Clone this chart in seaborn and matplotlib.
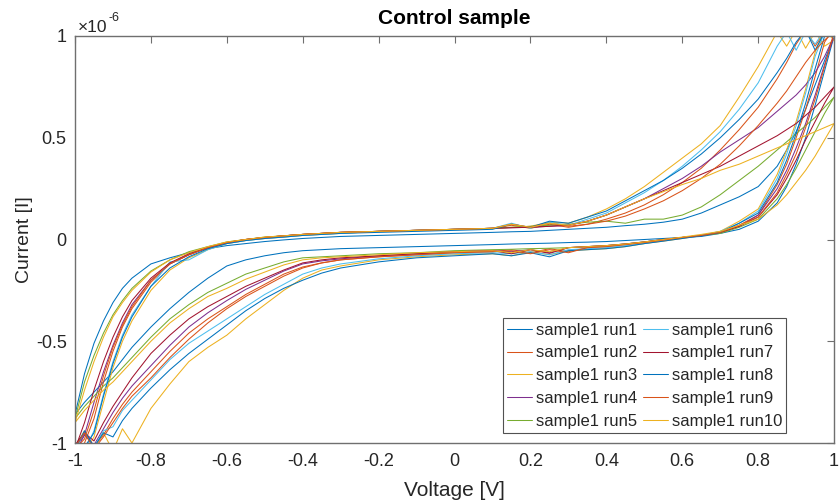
import matplotlib
matplotlib.use("Agg")
import matplotlib.pyplot as plt
import pandas as pd
import seaborn as sns
from matplotlib.ticker import FixedLocator, FuncFormatter

# Sweep voltage grid [V]
voltage = [-1.0, -0.975, -0.95, -0.925, -0.9, -0.875, -0.85,
           -0.8, -0.75, -0.7, -0.65, -0.6, -0.55, -0.5, -0.45, -0.4, -0.35, -0.3,
           -0.2, -0.1, 0.0, 0.1,
           0.15, 0.2, 0.25, 0.3, 0.35, 0.4, 0.45, 0.5, 0.55, 0.6, 0.65, 0.7, 0.75, 0.8,
           0.85, 0.875, 0.9, 0.925, 0.95, 0.975, 1.0]

run_labels = ["sample1 run%d" % i for i in range(1, 11)]

# Currents in units of 1e-6 A.
# fwd_*: lower branch, swept from -1 V up to +1 V
# rev_*: upper branch, listed on the same ascending grid (swept from +1 V back to -1 V)
fwd_run1 = [-0.86, -0.80, -0.75, -0.70, -0.65, -0.59, -0.53,
            -0.43, -0.34, -0.26, -0.19, -0.13, -0.10, -0.08, -0.065, -0.055, -0.05, -0.045,
            -0.04, -0.035, -0.03, -0.025,
            -0.022, -0.02, -0.018, -0.015, -0.013, -0.01, -0.005, 0.0, 0.005, 0.01, 0.015, 0.03, 0.05, 0.09,
            0.18, 0.26, 0.37, 0.50, 0.66, 0.83, 1.0]
rev_run1 = [-0.86, -0.66, -0.51, -0.40, -0.31, -0.24, -0.19,
            -0.12, -0.09, -0.065, -0.045, -0.03, -0.02, -0.01, -0.002, 0.005, 0.01, 0.015,
            0.02, 0.025, 0.03, 0.035,
            0.038, 0.04, 0.045, 0.05, 0.055, 0.06, 0.068, 0.075, 0.085, 0.10, 0.13, 0.17, 0.21, 0.26,
            0.36, 0.44, 0.53, 0.64, 0.76, 0.88, 1.0]

fwd_run2 = [-1.03, -0.95, -1.02, -0.96, -0.88, -0.81, -0.75,
            -0.65, -0.55, -0.46, -0.39, -0.33, -0.27, -0.22, -0.17, -0.135, -0.115, -0.10,
            -0.085, -0.075, -0.065, -0.06,
            -0.05, -0.065, -0.045, -0.06, -0.04, -0.035, -0.025, -0.015, -0.005, 0.01, 0.02, 0.035, 0.07, 0.12,
            0.27, 0.37, 0.50, 0.64, 0.80, 0.97, 1.04]
rev_run2 = [-1.04, -1.0, -0.88, -0.70, -0.55, -0.43, -0.34,
            -0.21, -0.12, -0.075, -0.04, -0.015, 0.0, 0.01, 0.018, 0.025, 0.03, 0.035,
            0.04, 0.045, 0.05, 0.055,
            0.07, 0.055, 0.075, 0.06, 0.075, 0.10, 0.13, 0.17, 0.22, 0.28, 0.35, 0.44, 0.54, 0.65,
            0.79, 0.87, 0.96, 1.03, 0.95, 1.02, 1.04]

fwd_run3 = [-1.02, -0.94, -1.03, -0.95, -1.04, -0.93, -1.0,
            -0.83, -0.71, -0.60, -0.53, -0.47, -0.39, -0.32, -0.25, -0.19, -0.15, -0.13,
            -0.10, -0.085, -0.075, -0.07,
            -0.08, -0.06, -0.075, -0.055, -0.05, -0.045, -0.035, -0.02, -0.008, 0.005, 0.02, 0.04, 0.09, 0.15,
            0.32, 0.44, 0.58, 0.74, 0.92, 1.03, 0.98]
rev_run3 = [-1.03, -1.05, -0.97, -0.80, -0.63, -0.50, -0.40,
            -0.25, -0.15, -0.09, -0.05, -0.02, -0.005, 0.005, 0.012, 0.02, 0.025, 0.03,
            0.04, 0.045, 0.05, 0.055,
            0.06, 0.065, 0.085, 0.08, 0.11, 0.15, 0.20, 0.26, 0.33, 0.40, 0.47, 0.56, 0.70, 0.85,
            1.02, 0.95, 1.03, 0.94, 1.02, 0.95, 0.98]

fwd_run4 = [-1.02, -0.96, -1.01, -0.93, -0.85, -0.78, -0.72,
            -0.62, -0.52, -0.43, -0.36, -0.30, -0.245, -0.20, -0.155, -0.12, -0.105, -0.095,
            -0.08, -0.07, -0.06, -0.055,
            -0.06, -0.05, -0.065, -0.04, -0.035, -0.03, -0.022, -0.012, 0.0, 0.01, 0.02, 0.035, 0.065, 0.12,
            0.25, 0.34, 0.45, 0.57, 0.71, 0.86, 1.0]
rev_run4 = [-1.05, -0.96, -0.80, -0.65, -0.52, -0.41, -0.32,
            -0.20, -0.12, -0.075, -0.04, -0.015, 0.0, 0.01, 0.018, 0.025, 0.03, 0.035,
            0.04, 0.045, 0.05, 0.055,
            0.058, 0.06, 0.065, 0.07, 0.09, 0.12, 0.16, 0.20, 0.25, 0.30, 0.36, 0.43, 0.49, 0.55,
            0.63, 0.67, 0.71, 0.76, 0.82, 0.90, 1.0]

fwd_run5 = [-0.88, -0.82, -0.77, -0.72, -0.68, -0.63, -0.58,
            -0.48, -0.39, -0.32, -0.26, -0.215, -0.17, -0.14, -0.11, -0.09, -0.085, -0.08,
            -0.07, -0.065, -0.055, -0.05,
            -0.048, -0.045, -0.043, -0.04, -0.035, -0.03, -0.022, -0.012, 0.0, 0.01, 0.02, 0.03, 0.06, 0.10,
            0.20, 0.27, 0.35, 0.44, 0.53, 0.62, 0.70]
rev_run5 = [-0.88, -0.70, -0.57, -0.46, -0.37, -0.30, -0.24,
            -0.155, -0.10, -0.06, -0.035, -0.012, 0.0, 0.012, 0.018, 0.025, 0.03, 0.035,
            0.04, 0.045, 0.05, 0.055,
            0.06, 0.065, 0.07, 0.075, 0.085, 0.09, 0.08, 0.10, 0.10, 0.12, 0.16, 0.22, 0.29, 0.36,
            0.44, 0.48, 0.52, 0.56, 0.60, 0.65, 0.70]

fwd_run6 = [-1.03, -0.95, -1.02, -0.94, -0.92, -0.84, -0.79,
            -0.69, -0.59, -0.51, -0.45, -0.39, -0.33, -0.27, -0.22, -0.17, -0.14, -0.12,
            -0.095, -0.08, -0.07, -0.065,
            -0.07, -0.06, -0.075, -0.05, -0.045, -0.04, -0.03, -0.02, -0.005, 0.008, 0.02, 0.04, 0.08, 0.14,
            0.30, 0.42, 0.56, 0.72, 0.90, 1.02, 0.99]
rev_run6 = [-1.02, -1.04, -0.94, -0.76, -0.60, -0.47, -0.37,
            -0.23, -0.11, -0.10, -0.05, -0.02, -0.005, 0.005, 0.012, 0.02, 0.025, 0.03,
            0.04, 0.045, 0.05, 0.055,
            0.08, 0.055, 0.085, 0.07, 0.10, 0.13, 0.18, 0.23, 0.29, 0.36, 0.44, 0.53, 0.64, 0.77,
            0.95, 1.02, 0.93, 1.02, 0.96, 1.03, 0.99]

fwd_run7 = [-1.01, -0.95, -0.99, -0.90, -0.82, -0.75, -0.68,
            -0.56, -0.47, -0.39, -0.33, -0.28, -0.23, -0.19, -0.15, -0.115, -0.10, -0.09,
            -0.08, -0.07, -0.06, -0.055,
            -0.07, -0.05, -0.068, -0.04, -0.035, -0.03, -0.022, -0.012, 0.0, 0.01, 0.02, 0.035, 0.065, 0.11,
            0.22, 0.30, 0.39, 0.49, 0.58, 0.67, 0.75]
rev_run7 = [-1.03, -0.90, -0.74, -0.60, -0.48, -0.38, -0.30,
            -0.19, -0.115, -0.07, -0.04, -0.015, 0.0, 0.01, 0.018, 0.025, 0.03, 0.035,
            0.04, 0.045, 0.05, 0.055,
            0.058, 0.06, 0.065, 0.07, 0.09, 0.12, 0.16, 0.20, 0.24, 0.28, 0.32, 0.36, 0.41, 0.46,
            0.51, 0.54, 0.57, 0.61, 0.65, 0.70, 0.75]

fwd_run8 = [-1.03, -0.94, -1.02, -0.95, -0.97, -0.89, -0.83,
            -0.73, -0.64, -0.56, -0.49, -0.42, -0.35, -0.29, -0.24, -0.20, -0.165, -0.14,
            -0.11, -0.09, -0.08, -0.07,
            -0.08, -0.065, -0.085, -0.055, -0.05, -0.045, -0.035, -0.02, -0.008, 0.005, 0.018, 0.035, 0.08, 0.13,
            0.28, 0.39, 0.52, 0.67, 0.84, 1.0, 1.03]
rev_run8 = [-1.04, -1.02, -0.95, -0.77, -0.61, -0.48, -0.38,
            -0.23, -0.14, -0.085, -0.045, -0.02, -0.005, 0.005, 0.012, 0.02, 0.025, 0.03,
            0.035, 0.04, 0.045, 0.05,
            0.075, 0.06, 0.09, 0.08, 0.11, 0.14, 0.19, 0.24, 0.29, 0.35, 0.42, 0.50, 0.59, 0.69,
            0.82, 0.89, 0.97, 1.03, 0.93, 1.02, 1.03]

fwd_run9 = [-1.02, -0.95, -1.03, -0.97, -0.90, -0.83, -0.77,
            -0.68, -0.58, -0.49, -0.41, -0.34, -0.28, -0.23, -0.18, -0.14, -0.115, -0.10,
            -0.085, -0.075, -0.065, -0.06,
            -0.055, -0.07, -0.05, -0.065, -0.04, -0.035, -0.025, -0.015, -0.003, 0.01, 0.02, 0.035, 0.07, 0.11,
            0.23, 0.32, 0.42, 0.55, 0.69, 0.85, 1.02]
rev_run9 = [-1.03, -0.98, -0.84, -0.67, -0.53, -0.42, -0.33,
            -0.20, -0.12, -0.075, -0.04, -0.015, 0.0, 0.01, 0.018, 0.025, 0.03, 0.035,
            0.04, 0.045, 0.05, 0.055,
            0.075, 0.06, 0.08, 0.065, 0.075, 0.09, 0.115, 0.15, 0.19, 0.24, 0.30, 0.37, 0.46, 0.56,
            0.67, 0.73, 0.80, 0.87, 0.93, 0.98, 1.02]

fwd_run10 = [-0.90, -0.84, -0.79, -0.74, -0.70, -0.65, -0.60,
             -0.50, -0.41, -0.34, -0.28, -0.24, -0.195, -0.16, -0.125, -0.10, -0.09, -0.085,
             -0.075, -0.065, -0.06, -0.055,
             -0.065, -0.05, -0.06, -0.04, -0.035, -0.03, -0.022, -0.012, 0.0, 0.012, 0.025, 0.04, 0.07, 0.10,
             0.17, 0.22, 0.28, 0.34, 0.41, 0.49, 0.57]
rev_run10 = [-0.90, -0.74, -0.60, -0.48, -0.38, -0.31, -0.25,
             -0.16, -0.10, -0.065, -0.035, -0.012, 0.0, 0.012, 0.018, 0.025, 0.03, 0.035,
             0.04, 0.045, 0.05, 0.055,
             0.075, 0.06, 0.08, 0.07, 0.09, 0.12, 0.16, 0.20, 0.235, 0.27, 0.30, 0.34, 0.37, 0.41,
             0.45, 0.47, 0.49, 0.51, 0.53, 0.55, 0.57]

forward_branches = [fwd_run1, fwd_run2, fwd_run3, fwd_run4, fwd_run5,
                    fwd_run6, fwd_run7, fwd_run8, fwd_run9, fwd_run10]
reverse_branches = [rev_run1, rev_run2, rev_run3, rev_run4, rev_run5,
                    rev_run6, rev_run7, rev_run8, rev_run9, rev_run10]

line_colors = ["#0072BD", "#D95319", "#EDB120", "#7E2F8E", "#77AC30",
               "#4DBEEE", "#A2142F", "#0072BD", "#D95319", "#EDB120"]

CURRENT_SCALE = 1e-6

# Each run is a closed loop: forward branch up, reverse branch back down
rows = []
for label, fwd, rev in zip(run_labels, forward_branches, reverse_branches):
    assert len(fwd) == len(voltage) and len(rev) == len(voltage), label
    path_v = list(voltage) + list(voltage[::-1][1:]) + [voltage[0]]
    path_i = list(fwd) + list(rev[::-1][1:]) + [fwd[0]]
    for step, (v, i) in enumerate(zip(path_v, path_i)):
        rows.append({"run": label, "step": step, "V": v, "I": i * CURRENT_SCALE})
df = pd.DataFrame(rows)

sns.set_theme(style="white")
plt.rcParams["font.family"] = ["Liberation Sans", "DejaVu Sans"]
plt.rcParams["axes.unicode_minus"] = False

fig = plt.figure(figsize=(8.4, 5.04), dpi=100)
ax = fig.add_axes([0.0893, 0.121, 0.9037, 0.8076])

sns.lineplot(data=df, x="V", y="I", hue="run", hue_order=run_labels,
             palette=dict(zip(run_labels, line_colors)), sort=False,
             estimator=None, linewidth=0.75, ax=ax, legend=False)

ax.set_xlim(-1, 1)
ax.set_ylim(-1 * CURRENT_SCALE, 1 * CURRENT_SCALE)
ax.xaxis.set_major_locator(FixedLocator([-1, -0.8, -0.6, -0.4, -0.2, 0, 0.2, 0.4, 0.6, 0.8, 1]))
ax.yaxis.set_major_locator(FixedLocator([v * CURRENT_SCALE for v in (-1, -0.5, 0, 0.5, 1)]))
ax.xaxis.set_major_formatter(FuncFormatter(lambda v, p: "%g" % round(v, 2)))
ax.yaxis.set_major_formatter(FuncFormatter(lambda v, p: "%g" % round(v / CURRENT_SCALE, 2)))

edge = "#262626"
for side in ax.spines.values():
    side.set_color("#6f6f6f")
    side.set_linewidth(1.0)
ax.tick_params(axis="both", direction="in", length=5, width=0.8, color="#6f6f6f",
               top=True, right=True, labelcolor=edge, labelsize=13)
ax.tick_params(axis="x", pad=7)
ax.tick_params(axis="y", pad=6)

# Exponent of the current axis, drawn as "x10" with a raised "-6"
ax.annotate("\u00d710", xy=(0, 1), xycoords="axes fraction", xytext=(2, 3),
            textcoords="offset points", ha="left", va="baseline", fontsize=12.5, color=edge)
ax.annotate("-6", xy=(0, 1), xycoords="axes fraction", xytext=(24, 11),
            textcoords="offset points", ha="left", va="baseline", fontsize=9, color=edge)

ax.set_title("Control sample", fontsize=15, fontweight="bold", color="black", pad=8.5)
ax.set_xlabel("Voltage [V]", fontsize=15, color=edge, labelpad=8)
ax.set_ylabel("Current [I]", fontsize=14, color=edge, labelpad=2)

handles = ax.get_lines()[:len(run_labels)]
leg = ax.legend(handles, run_labels, ncol=2, loc="lower right",
                bbox_to_anchor=(0.937, 0.0246), fontsize=12, frameon=True,
                fancybox=False, handlelength=1.5, handletextpad=0.2,
                columnspacing=0.4, labelspacing=0.47, borderpad=0.25,
                borderaxespad=0.0)
leg.get_frame().set_edgecolor("#262626")
leg.get_frame().set_linewidth(0.8)
for t in leg.get_texts():
    t.set_color(edge)

fig.savefig("out.png", dpi=100)
